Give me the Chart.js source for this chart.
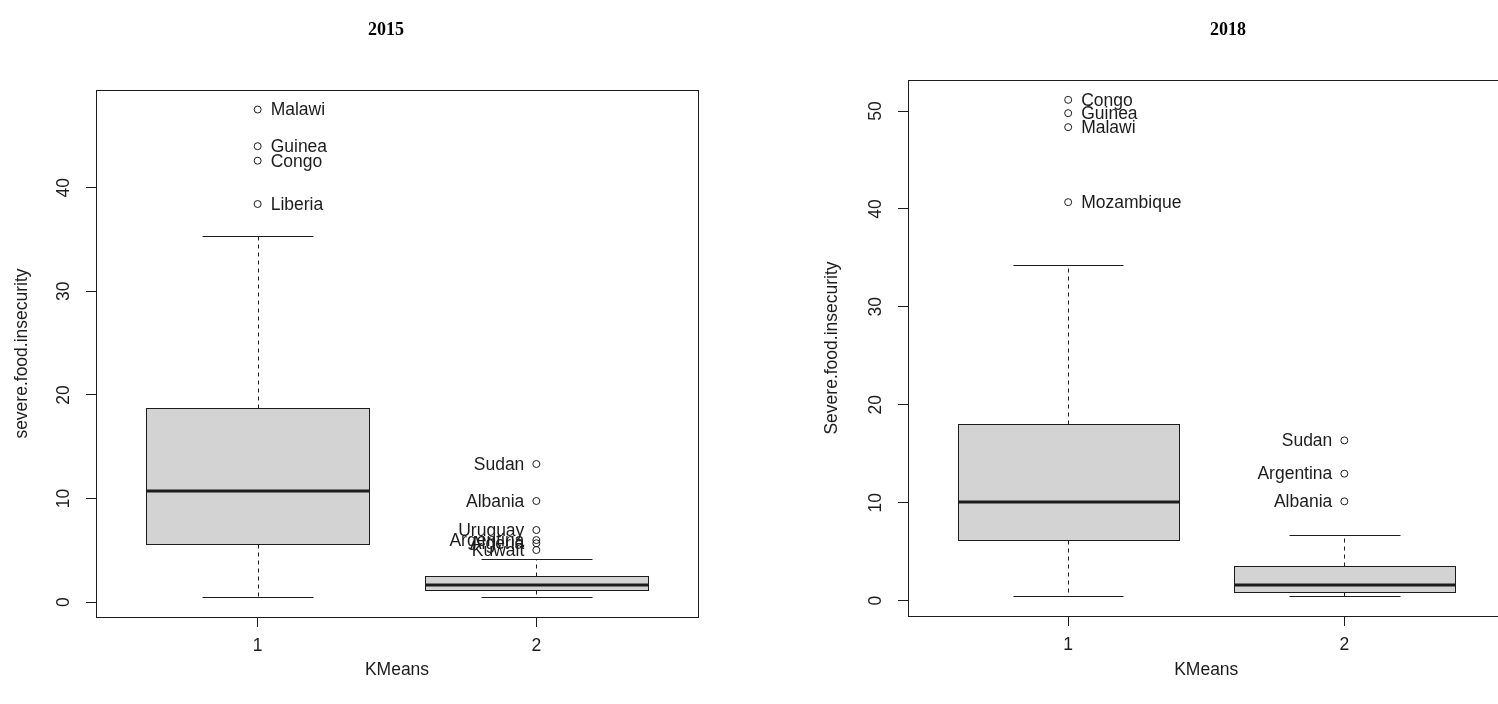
<!DOCTYPE html>
<html>
<head>
<meta charset="utf-8">
<title>Severe food insecurity by KMeans cluster, 2015 and 2018</title>
<script src="https://cdn.jsdelivr.net/npm/chart.js@4.4.1/dist/chart.umd.min.js"></script>
<style>
  html, body { margin: 0; padding: 0; background: #fff; }
  #page { position: relative; width: 1498px; height: 704px; overflow: hidden; background: #fff; }
  #page canvas { position: absolute; top: 0; }
</style>
</head>
<body>
<div id="page">
  <canvas id="panel2015" width="749" height="704" style="left:0px"></canvas>
  <canvas id="panel2018" width="760" height="704" style="left:749px"></canvas>
</div>
<script>
// ---- data -------------------------------------------------------------
const clusters = ['1', '2'];

// 2015: five-number summaries per cluster
const whiskerLow2015  = [0.45, 0.47];
const q1_2015         = [5.61, 1.14];
const median2015      = [10.72, 1.62];
const q3_2015         = [18.73, 2.52];
const whiskerHigh2015 = [35.33, 4.13];
const yTicks2015      = [0, 10, 20, 30, 40];
const outlierNames2015   = ['Malawi', 'Guinea', 'Congo', 'Liberia', 'Sudan', 'Albania', 'Uruguay', 'Argentina', 'Algeria', 'Kuwait'];
const outlierCluster2015 = [1, 1, 1, 1, 2, 2, 2, 2, 2, 2];
const outlierValues2015  = [47.54, 44.0, 42.6, 38.42, 13.33, 9.76, 6.96, 5.99, 5.68, 5.03];

// 2018: five-number summaries per cluster
const whiskerLow2018  = [0.45, 0.47];
const q1_2018         = [6.15, 0.87];
const median2018      = [10.03, 1.56];
const q3_2018         = [17.99, 3.50];
const whiskerHigh2018 = [34.23, 6.66];
const yTicks2018      = [0, 10, 20, 30, 40, 50];
const outlierNames2018   = ['Congo', 'Guinea', 'Malawi', 'Mozambique', 'Sudan', 'Argentina', 'Albania'];
const outlierCluster2018 = [1, 1, 1, 1, 2, 2, 2];
const outlierValues2018  = [51.14, 49.78, 48.35, 40.69, 16.36, 12.96, 10.13];

// ---- styling ------------------------------------------------------------
const SANS = "'Liberation Sans', Arial, Helvetica, sans-serif";
const SERIF = "'Liberation Serif', 'Times New Roman', serif";
const INK = '#1c1c1c';
const FS = 17.5;
const BOX_FILL = '#d3d3d3';

// value range padded by 4% on both sides, like base R plots
function paddedRange(lists) {
  const all = [].concat(...lists);
  const lo = Math.min(...all), hi = Math.max(...all);
  const pad = (hi - lo) * 0.04;
  return { min: lo - pad, max: hi + pad };
}

function seg(ctx, x1, y1, x2, y2) {
  ctx.beginPath(); ctx.moveTo(x1, y1); ctx.lineTo(x2, y2); ctx.stroke();
}
const px = v => Math.round(v) + 0.5;

const boxPlotPlugin = {
  id: 'boxStats',
  beforeDatasetsDraw(chart, args, opts) {
    const { ctx } = chart;
    const x = chart.scales.x, y = chart.scales.y;
    ctx.save();
    ctx.strokeStyle = INK;
    opts.median.forEach((m, i) => {
      const g = i + 1;
      const cx = px(x.getPixelForValue(g));
      const bl = px(x.getPixelForValue(g - 0.4));
      const br = px(x.getPixelForValue(g + 0.4));
      const sl = px(x.getPixelForValue(g - 0.2));
      const sr = px(x.getPixelForValue(g + 0.2));
      const yLo = px(y.getPixelForValue(opts.low[i]));
      const yQ1 = px(y.getPixelForValue(opts.q1[i]));
      const yMd = y.getPixelForValue(m);
      const yQ3 = px(y.getPixelForValue(opts.q3[i]));
      const yHi = px(y.getPixelForValue(opts.high[i]));
      // whiskers
      ctx.lineWidth = 1;
      ctx.setLineDash([4, 4]);
      seg(ctx, cx, yQ3, cx, yHi);
      seg(ctx, cx, yQ1, cx, yLo);
      ctx.setLineDash([]);
      seg(ctx, sl, yHi, sr, yHi);
      seg(ctx, sl, yLo, sr, yLo);
      // box
      ctx.fillStyle = BOX_FILL;
      ctx.fillRect(bl, yQ3, br - bl, yQ1 - yQ3);
      ctx.strokeRect(bl, yQ3, br - bl, yQ1 - yQ3);
      // median
      ctx.lineWidth = 3;
      seg(ctx, bl, Math.round(yMd), br, Math.round(yMd));
    });
    ctx.restore();
  },
  afterDatasetsDraw(chart, args, opts) {
    const { ctx } = chart;
    const meta = chart.getDatasetMeta(0);
    ctx.save();
    ctx.font = `${FS}px ${SANS}`;
    ctx.fillStyle = INK;
    ctx.textBaseline = 'middle';
    meta.data.forEach((pt, i) => {
      const onLeft = opts.cluster[i] === 2;
      ctx.textAlign = onLeft ? 'right' : 'left';
      ctx.fillText(opts.names[i], pt.x + (onLeft ? -12 : 13), pt.y + 1);
    });
    ctx.restore();
  },
  afterDraw(chart, args, opts) {
    const { ctx, chartArea: a } = chart;
    const y = chart.scales.y;
    ctx.save();
    // plot frame
    ctx.strokeStyle = INK;
    ctx.lineWidth = 1;
    ctx.strokeRect(px(a.left), px(a.top), Math.round(a.right) - Math.round(a.left), Math.round(a.bottom) - Math.round(a.top));
    // y tick labels, parallel to the axis
    ctx.fillStyle = INK;
    ctx.font = `${FS}px ${SANS}`;
    ctx.textAlign = 'center';
    ctx.textBaseline = 'middle';
    opts.yTicks.forEach(v => {
      ctx.save();
      ctx.translate(a.left - 33, y.getPixelForValue(v));
      ctx.rotate(-Math.PI / 2);
      ctx.fillText(String(v), 0, 1);
      ctx.restore();
    });
    // panel heading
    ctx.font = `bold 18px ${SERIF}`;
    ctx.fillStyle = '#000';
    ctx.fillText(opts.heading, opts.headingX, 30);
    ctx.restore();
  }
};

function makePanel(id, p) {
  const range = paddedRange([p.low, p.high, p.outlierValues]);
  return new Chart(document.getElementById(id), {
    type: 'scatter',
    data: {
      datasets: [{
        data: p.outlierValues.map((v, i) => ({ x: p.outlierCluster[i], y: v })),
        pointStyle: 'circle',
        pointRadius: 3.5,
        pointHoverRadius: 3.5,
        pointBorderWidth: 1,
        pointBackgroundColor: 'rgba(0,0,0,0)',
        pointBorderColor: INK
      }]
    },
    options: {
      responsive: false,
      animation: false,
      devicePixelRatio: 1,
      events: [],
      layout: { padding: { top: p.top, right: p.padRight, left: 0, bottom: 0 } },
      scales: {
        x: {
          type: 'linear',
          min: 0.42, max: 2.58,
          afterBuildTicks: s => { s.ticks = clusters.map((c, i) => ({ value: i + 1 })); },
          afterFit: s => { s.height = p.xAxisHeight; },
          grid: { display: true, drawOnChartArea: false, drawTicks: true, tickLength: 10, color: INK, lineWidth: 1 },
          border: { display: false },
          ticks: { font: { family: SANS, size: FS }, color: INK, padding: 9, maxRotation: 0,
                   callback: (v, i) => clusters[i] },
          title: { display: true, text: 'KMeans', font: { family: SANS, size: FS }, color: INK,
                   padding: { top: 0, bottom: 23 } }
        },
        y: {
          type: 'linear',
          min: range.min, max: range.max,
          afterBuildTicks: s => { s.ticks = p.yTicks.map(v => ({ value: v })); },
          afterFit: s => { s.width = p.yAxisWidth; },
          grid: { display: true, drawOnChartArea: false, drawTicks: true, tickLength: 10, color: INK, lineWidth: 1 },
          border: { display: false },
          ticks: { display: false },
          title: { display: true, text: p.yTitle, font: { family: SANS, size: FS }, color: INK,
                   padding: { top: p.yTitlePad, bottom: 0 } }
        }
      },
      plugins: {
        legend: { display: false },
        tooltip: { enabled: false },
        boxStats: {
          low: p.low, q1: p.q1, median: p.median, q3: p.q3, high: p.high,
          names: p.outlierNames, cluster: p.outlierCluster,
          yTicks: p.yTicks, heading: p.heading, headingX: p.headingX
        }
      }
    },
    plugins: [boxPlotPlugin]
  });
}

makePanel('panel2015', {
  low: whiskerLow2015, q1: q1_2015, median: median2015, q3: q3_2015, high: whiskerHigh2015,
  outlierNames: outlierNames2015, outlierCluster: outlierCluster2015, outlierValues: outlierValues2015,
  yTicks: yTicks2015, yTitle: 'severe.food.insecurity', heading: '2015', headingX: 386,
  top: 90, padRight: 51, xAxisHeight: 87, yAxisWidth: 96, yTitlePad: 11.5
});

makePanel('panel2018', {
  low: whiskerLow2018, q1: q1_2018, median: median2018, q3: q3_2018, high: whiskerHigh2018,
  outlierNames: outlierNames2018, outlierCluster: outlierCluster2018, outlierValues: outlierValues2018,
  yTicks: yTicks2018, yTitle: 'Severe.food.insecurity', heading: '2018', headingX: 479,
  top: 80, padRight: 2, xAxisHeight: 88, yAxisWidth: 159, yTitlePad: 72.5
});
</script>
</body>
</html>
